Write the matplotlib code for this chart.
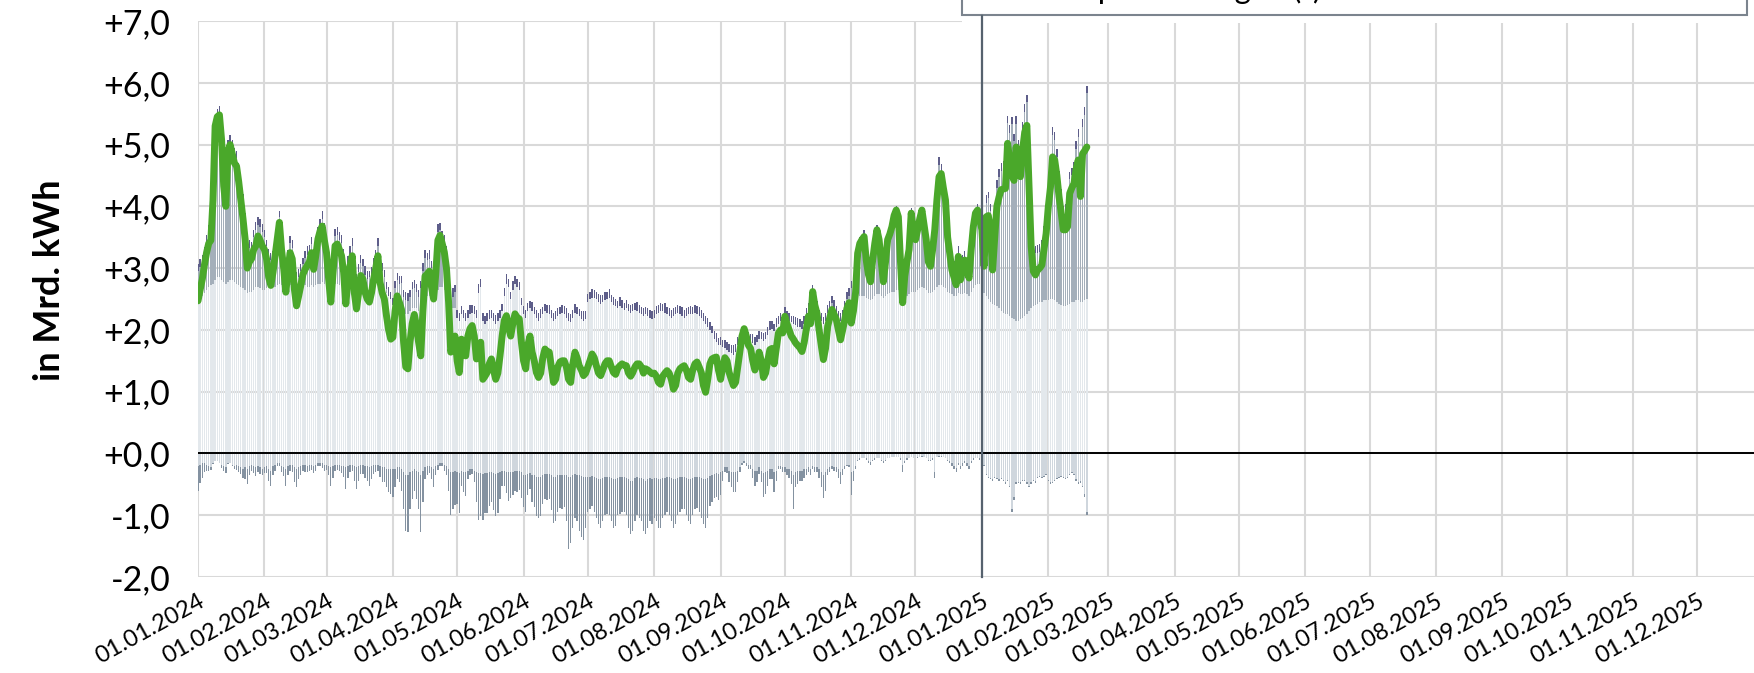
import numpy as np
import pandas as pd
import matplotlib
matplotlib.use("Agg")
import matplotlib.pyplot as plt
import matplotlib.dates as mdates
import matplotlib.transforms as mtransforms
from matplotlib.patches import Patch, Rectangle
from matplotlib.lines import Line2D
from matplotlib.ticker import FuncFormatter, MultipleLocator

plt.rcParams['font.family'] = ['Lato', 'DejaVu Sans']

# daily values from 01.01.2024, in Mrd. kWh
start = '2024-01-01'

verbrauch = [
    2.47, 2.65, 2.82, 3.05, 3.25, 3.40, 3.45, 4.10, 5.30, 5.45, 5.48, 5.08, 4.33, 4.00, 4.90, 5.00, 4.85, 4.70, 4.65, 4.40, 4.10, 3.80, 3.47, 3.00, 3.10, 3.15, 3.30, 3.36, 3.52, 3.45, 3.36,
    3.30, 3.15, 2.85, 2.72, 2.93, 3.20, 3.47, 3.74, 3.30, 3.00, 2.61, 2.95, 3.25, 3.15, 2.66, 2.39, 2.55, 2.72, 2.90, 2.98, 3.04, 3.10, 3.25, 2.98, 3.20, 3.47, 3.60, 3.68, 3.45,
    3.25, 2.82, 2.45, 2.90, 3.36, 3.39, 3.30, 3.20, 2.93, 2.42, 2.80, 3.04, 3.20, 2.60, 2.34, 2.60, 2.88, 2.82, 2.61, 2.50, 2.45, 2.60, 2.82, 3.00, 3.20, 2.77, 2.60, 2.50, 2.23, 2.00, 1.85,
    1.88, 2.30, 2.55, 2.45, 2.33, 1.80, 1.40, 1.37, 1.80, 2.10, 2.25, 2.06, 1.80, 1.58, 2.30, 2.87, 2.90, 2.95, 2.70, 2.50, 2.90, 3.45, 3.53, 3.40, 3.26, 3.00, 2.45, 1.64, 1.75, 1.90,
    1.50, 1.31, 1.85, 1.70, 1.58, 1.90, 2.02, 2.07, 1.90, 1.53, 1.65, 1.80, 1.20, 1.25, 1.31, 1.45, 1.53, 1.35, 1.20, 1.30, 1.58, 1.90, 2.15, 2.23, 2.05, 1.90, 2.10, 2.26, 2.20, 2.18, 1.80,
    1.50, 1.37, 1.75, 1.90, 1.64, 1.50, 1.31, 1.23, 1.30, 1.55, 1.69, 1.65, 1.64, 1.40, 1.15, 1.20, 1.40, 1.48, 1.50, 1.50, 1.40, 1.20, 1.15, 1.45, 1.64, 1.55, 1.42, 1.35, 1.26, 1.30,
    1.40, 1.50, 1.61, 1.55, 1.42, 1.30, 1.26, 1.35, 1.45, 1.50, 1.50, 1.40, 1.31, 1.28, 1.38, 1.42, 1.45, 1.43, 1.42, 1.30, 1.25, 1.31, 1.40, 1.45, 1.45, 1.40, 1.30, 1.37, 1.35, 1.32, 1.29,
    1.30, 1.25, 1.15, 1.12, 1.25, 1.30, 1.34, 1.30, 1.20, 1.04, 1.10, 1.30, 1.37, 1.40, 1.42, 1.35, 1.23, 1.20, 1.35, 1.45, 1.48, 1.40, 1.31, 1.10, 0.99, 1.20, 1.45, 1.53, 1.55, 1.56, 1.35,
    1.20, 1.40, 1.55, 1.50, 1.31, 1.20, 1.10, 1.15, 1.40, 1.64, 1.90, 2.02, 1.90, 1.75, 1.70, 1.50, 1.35, 1.45, 1.64, 1.50, 1.23, 1.30, 1.50, 1.68, 1.70, 1.45, 1.70, 1.95, 2.00, 1.95,
    2.22, 2.10, 2.00, 1.90, 1.85, 1.79, 1.75, 1.71, 1.65, 1.79, 2.00, 2.22, 2.10, 2.62, 2.40, 2.27, 2.00, 1.75, 1.52, 1.70, 2.06, 2.20, 2.33, 2.25, 2.17, 2.00, 1.84, 2.00, 2.17, 2.35, 2.44,
    2.11, 2.30, 2.60, 3.24, 3.40, 3.46, 3.51, 3.13, 2.90, 2.78, 3.13, 3.40, 3.62, 3.46, 3.10, 2.78, 3.10, 3.46, 3.55, 3.67, 3.85, 3.94, 3.83, 3.10, 2.44, 2.87, 3.10, 3.30, 3.89, 3.60,
    3.46, 3.62, 3.80, 3.94, 3.70, 3.46, 3.10, 3.03, 3.30, 3.62, 4.10, 4.48, 4.53, 4.30, 4.10, 3.50, 3.24, 2.97, 2.85, 2.73, 3.19, 2.81, 3.00, 3.13, 2.95, 2.84, 3.30, 3.67, 3.89, 3.94, 3.80,
    3.62, 3.03, 3.83, 3.85, 3.62, 2.97, 3.50, 4.00, 4.15, 4.27, 4.28, 4.29, 5.02, 4.75, 4.50, 4.42, 4.96, 4.60, 4.48, 4.91, 5.20, 5.31, 4.32, 3.35, 2.95, 2.89, 2.97, 3.00, 3.05, 3.30, 3.56,
    3.99, 4.30, 4.80, 4.75, 4.50, 4.16, 3.90, 3.62, 3.62, 3.67, 4.21, 4.30, 4.37, 4.60, 4.75, 4.16, 4.85, 4.90, 4.96,
]

importe = [
    2.45, 2.50, 2.55, 2.60, 2.65, 2.70, 2.72, 2.75, 2.80, 2.85, 2.85, 2.80, 2.78, 2.75, 2.78, 2.80, 2.80, 2.78, 2.75, 2.72, 2.70, 2.68, 2.65, 2.60, 2.62, 2.62, 2.65, 2.70, 2.70, 2.68, 2.65,
    2.65, 2.68, 2.70, 2.72, 2.70, 2.70, 2.72, 2.75, 2.72, 2.70, 2.68, 2.70, 2.72, 2.70, 2.68, 2.65, 2.68, 2.70, 2.72, 2.72, 2.70, 2.70, 2.72, 2.70, 2.72, 2.75, 2.75, 2.78, 2.75,
    2.75, 2.72, 2.70, 2.72, 2.75, 2.75, 2.72, 2.72, 2.70, 2.68, 2.70, 2.72, 2.72, 2.70, 2.68, 2.70, 2.72, 2.70, 2.68, 2.65, 2.65, 2.68, 2.70, 2.70, 2.72, 2.70, 2.65, 2.62, 2.60, 2.55, 2.50,
    2.40, 2.40, 2.40, 2.40, 2.35, 2.30, 2.25, 2.25, 2.30, 2.35, 2.35, 2.35, 2.30, 2.25, 2.40, 2.50, 2.55, 2.55, 2.50, 2.50, 2.55, 2.65, 2.70, 2.70, 2.65, 2.60, 2.50, 2.35, 2.35, 2.35,
    2.20, 2.15, 2.25, 2.20, 2.15, 2.20, 2.25, 2.28, 2.25, 2.20, 2.60, 2.70, 2.15, 2.10, 2.15, 2.18, 2.20, 2.15, 2.10, 2.15, 2.20, 2.30, 2.55, 2.75, 2.70, 2.50, 2.65, 2.75, 2.70, 2.65, 2.40,
    2.25, 2.20, 2.30, 2.35, 2.30, 2.25, 2.20, 2.15, 2.20, 2.25, 2.30, 2.28, 2.25, 2.20, 2.15, 2.18, 2.22, 2.25, 2.28, 2.25, 2.20, 2.15, 2.12, 2.20, 2.28, 2.25, 2.22, 2.18, 2.15, 2.18,
    2.45, 2.50, 2.52, 2.52, 2.50, 2.45, 2.42, 2.45, 2.48, 2.50, 2.52, 2.45, 2.40, 2.38, 2.35, 2.38, 2.35, 2.32, 2.35, 2.30, 2.28, 2.30, 2.32, 2.30, 2.28, 2.25, 2.22, 2.25, 2.22, 2.20, 2.18,
    2.20, 2.25, 2.28, 2.30, 2.30, 2.28, 2.25, 2.22, 2.20, 2.22, 2.25, 2.28, 2.25, 2.22, 2.20, 2.22, 2.25, 2.25, 2.25, 2.28, 2.25, 2.22, 2.20, 2.15, 2.10, 2.05, 2.00, 1.95, 1.85, 1.80, 1.75,
    1.75, 1.72, 1.70, 1.68, 1.65, 1.62, 1.60, 1.65, 1.75, 1.82, 1.90, 1.95, 1.90, 1.85, 1.82, 1.78, 1.75, 1.80, 1.85, 1.85, 1.82, 1.85, 1.92, 2.00, 2.02, 1.98, 2.05, 2.10, 2.15, 2.12,
    2.20, 2.18, 2.15, 2.12, 2.10, 2.08, 2.05, 2.05, 2.02, 2.10, 2.18, 2.22, 2.20, 2.30, 2.28, 2.25, 2.20, 2.15, 2.10, 2.15, 2.22, 2.25, 2.28, 2.25, 2.22, 2.20, 2.15, 2.20, 2.25, 2.30, 2.30,
    2.35, 2.40, 2.45, 2.50, 2.55, 2.55, 2.55, 2.52, 2.50, 2.48, 2.50, 2.55, 2.58, 2.58, 2.55, 2.52, 2.55, 2.58, 2.60, 2.62, 2.62, 2.65, 2.65, 2.60, 2.50, 2.52, 2.55, 2.58, 2.62, 2.62,
    2.62, 2.65, 2.68, 2.70, 2.68, 2.65, 2.60, 2.60, 2.62, 2.65, 2.70, 2.72, 2.72, 2.70, 2.68, 2.62, 2.60, 2.58, 2.55, 2.55, 2.60, 2.58, 2.58, 2.60, 2.58, 2.55, 2.62, 2.68, 2.72, 2.75, 2.75,
    2.65, 2.60, 2.55, 2.50, 2.45, 2.42, 2.40, 2.38, 2.35, 2.30, 2.28, 2.25, 2.25, 2.22, 2.20, 2.18, 2.15, 2.15, 2.18, 2.20, 2.22, 2.25, 2.30, 2.35, 2.38, 2.40, 2.42, 2.45, 2.45, 2.48, 2.48,
    2.48, 2.50, 2.50, 2.48, 2.45, 2.42, 2.40, 2.38, 2.38, 2.40, 2.42, 2.45, 2.45, 2.48, 2.48, 2.45, 2.45, 2.48, 2.50,
]

ausspeicherungen = [
    0.50, 0.51, 0.55, 0.63, 0.76, 0.86, 0.88, 1.40, 2.50, 2.60, 2.66, 2.39, 1.71, 1.45, 2.17, 2.23, 2.14, 2.05, 2.04, 1.86, 1.62, 1.40, 1.12, 0.78, 0.71, 0.69, 0.85, 0.91, 1.00, 0.99, 0.94,
    0.85, 0.67, 0.48, 0.41, 0.46, 0.66, 0.83, 1.07, 0.76, 0.55, 0.34, 0.48, 0.69, 0.63, 0.33, 0.17, 0.17, 0.25, 0.34, 0.44, 0.52, 0.56, 0.67, 0.48, 0.64, 0.80, 0.93, 1.01, 0.86,
    0.64, 0.33, 0.15, 0.46, 0.77, 0.78, 0.74, 0.68, 0.49, 0.19, 0.38, 0.50, 0.64, 0.23, 0.11, 0.23, 0.37, 0.33, 0.21, 0.18, 0.20, 0.22, 0.33, 0.48, 0.64, 0.33, 0.30, 0.23, 0.06, 0.00, 0.00,
    0.00, 0.28, 0.40, 0.35, 0.41, 0.23, 0.23, 0.22, 0.23, 0.31, 0.33, 0.27, 0.23, 0.43, 0.56, 0.67, 0.58, 0.60, 0.50, 0.43, 0.58, 0.94, 0.91, 0.78, 0.77, 0.63, 0.43, 0.17, 0.18, 0.26,
    0.00, 0.00, 0.00, 0.00, 0.00, 0.00, 0.00, 0.00, 0.00, 0.00, 0.00, 0.00, 0.00, 0.00, 0.00, 0.00, 0.00, 0.00, 0.00, 0.00, 0.00, 0.00, 0.00, 0.00, 0.00, 0.00, 0.00, 0.00, 0.00, 0.00, 0.00,
    0.00, 0.00, 0.00, 0.00, 0.00, 0.00, 0.00, 0.00, 0.00, 0.00, 0.00, 0.00, 0.00, 0.00, 0.00, 0.00, 0.00, 0.00, 0.00, 0.00, 0.00, 0.00, 0.00, 0.00, 0.00, 0.00, 0.00, 0.00, 0.00, 0.00,
    0.00, 0.00, 0.00, 0.00, 0.00, 0.00, 0.00, 0.00, 0.00, 0.00, 0.00, 0.00, 0.00, 0.00, 0.00, 0.00, 0.00, 0.00, 0.00, 0.00, 0.00, 0.00, 0.00, 0.00, 0.00, 0.00, 0.00, 0.00, 0.00, 0.00, 0.00,
    0.00, 0.00, 0.00, 0.00, 0.00, 0.00, 0.00, 0.00, 0.00, 0.00, 0.00, 0.00, 0.00, 0.00, 0.00, 0.00, 0.00, 0.00, 0.00, 0.00, 0.00, 0.00, 0.00, 0.00, 0.00, 0.00, 0.00, 0.00, 0.00, 0.00, 0.00,
    0.00, 0.00, 0.00, 0.00, 0.00, 0.00, 0.00, 0.00, 0.00, 0.00, 0.00, 0.00, 0.00, 0.00, 0.00, 0.00, 0.00, 0.00, 0.00, 0.00, 0.00, 0.00, 0.00, 0.00, 0.00, 0.00, 0.00, 0.00, 0.00, 0.00,
    0.05, 0.00, 0.00, 0.00, 0.00, 0.00, 0.00, 0.00, 0.00, 0.00, 0.05, 0.10, 0.05, 0.30, 0.15, 0.10, 0.00, 0.00, 0.00, 0.00, 0.05, 0.10, 0.15, 0.10, 0.05, 0.00, 0.00, 0.00, 0.10, 0.20, 0.25,
    0.32, 0.23, 0.28, 0.74, 0.83, 0.87, 0.92, 0.59, 0.43, 0.36, 0.63, 0.83, 1.00, 0.84, 0.55, 0.29, 0.55, 0.84, 0.91, 0.99, 1.16, 1.22, 1.12, 0.48, 0.12, 0.38, 0.53, 0.68, 1.21, 0.94,
    0.80, 0.92, 1.06, 1.17, 0.96, 0.77, 0.50, 0.43, 0.66, 1.25, 1.34, 1.95, 1.85, 1.54, 1.38, 0.88, 0.67, 0.47, 0.43, 0.36, 0.65, 0.36, 0.50, 0.56, 0.45, 0.42, 0.71, 0.97, 1.13, 1.15, 1.03,
    1.00, 0.51, 1.51, 1.63, 1.47, 0.88, 1.38, 1.92, 2.13, 2.27, 2.33, 2.42, 3.10, 2.96, 3.13, 2.87, 3.19, 2.81, 2.68, 3.04, 3.31, 3.44, 2.45, 1.38, 0.90, 0.85, 0.83, 0.81, 0.88, 1.08, 1.31,
    1.84, 2.18, 2.66, 2.60, 2.35, 2.02, 1.76, 1.52, 1.54, 1.55, 2.02, 2.05, 2.15, 2.45, 2.65, 2.07, 2.83, 3.00, 3.34,
]

produktion = [
    0.12, 0.13, 0.12, 0.11, 0.12, 0.13, 0.14, 0.12, 0.12, 0.13, 0.12, 0.11, 0.12, 0.13, 0.12, 0.12, 0.13, 0.12, 0.11, 0.12, 0.13, 0.12, 0.12, 0.14, 0.12, 0.11, 0.12, 0.13, 0.12, 0.12, 0.13,
    0.12, 0.11, 0.13, 0.12, 0.12, 0.14, 0.12, 0.11, 0.12, 0.13, 0.12, 0.12, 0.11, 0.13, 0.12, 0.12, 0.14, 0.12, 0.11, 0.12, 0.13, 0.12, 0.12, 0.11, 0.13, 0.12, 0.12, 0.14, 0.12,
    0.13, 0.12, 0.12, 0.11, 0.12, 0.13, 0.12, 0.14, 0.12, 0.11, 0.12, 0.13, 0.12, 0.12, 0.11, 0.13, 0.12, 0.12, 0.14, 0.12, 0.11, 0.12, 0.13, 0.12, 0.12, 0.11, 0.13, 0.12, 0.12, 0.14, 0.12,
    0.12, 0.11, 0.12, 0.13, 0.12, 0.12, 0.14, 0.12, 0.11, 0.12, 0.13, 0.12, 0.12, 0.11, 0.13, 0.12, 0.12, 0.14, 0.12, 0.11, 0.12, 0.13, 0.12, 0.12, 0.11, 0.13, 0.12, 0.12, 0.14, 0.12,
    0.13, 0.12, 0.14, 0.12, 0.12, 0.13, 0.15, 0.12, 0.13, 0.12, 0.14, 0.12, 0.13, 0.12, 0.12, 0.15, 0.13, 0.12, 0.14, 0.12, 0.13, 0.12, 0.12, 0.15, 0.13, 0.12, 0.14, 0.12, 0.13, 0.12, 0.12,
    0.14, 0.12, 0.13, 0.12, 0.15, 0.12, 0.13, 0.12, 0.14, 0.12, 0.12, 0.13, 0.15, 0.12, 0.13, 0.12, 0.14, 0.12, 0.12, 0.13, 0.15, 0.12, 0.13, 0.12, 0.14, 0.12, 0.12, 0.13, 0.15, 0.12,
    0.13, 0.12, 0.14, 0.12, 0.12, 0.13, 0.15, 0.12, 0.13, 0.12, 0.14, 0.12, 0.13, 0.12, 0.12, 0.15, 0.13, 0.12, 0.14, 0.12, 0.13, 0.12, 0.12, 0.15, 0.13, 0.12, 0.14, 0.12, 0.13, 0.12, 0.12,
    0.12, 0.14, 0.12, 0.13, 0.12, 0.15, 0.12, 0.13, 0.12, 0.14, 0.12, 0.12, 0.13, 0.15, 0.12, 0.13, 0.12, 0.14, 0.12, 0.12, 0.13, 0.15, 0.12, 0.13, 0.12, 0.14, 0.12, 0.12, 0.13, 0.15, 0.12,
    0.13, 0.12, 0.14, 0.12, 0.12, 0.13, 0.15, 0.12, 0.13, 0.12, 0.14, 0.12, 0.13, 0.12, 0.12, 0.15, 0.13, 0.12, 0.14, 0.12, 0.13, 0.12, 0.12, 0.15, 0.13, 0.12, 0.14, 0.12, 0.13, 0.12,
    0.12, 0.13, 0.12, 0.11, 0.12, 0.13, 0.14, 0.12, 0.12, 0.13, 0.12, 0.11, 0.12, 0.13, 0.12, 0.12, 0.13, 0.12, 0.11, 0.12, 0.13, 0.12, 0.12, 0.14, 0.12, 0.11, 0.12, 0.13, 0.12, 0.12, 0.13,
    0.12, 0.11, 0.12, 0.13, 0.12, 0.12, 0.14, 0.12, 0.11, 0.12, 0.13, 0.12, 0.12, 0.11, 0.13, 0.12, 0.12, 0.14, 0.12, 0.11, 0.12, 0.13, 0.12, 0.12, 0.11, 0.13, 0.12, 0.12, 0.14, 0.12,
    0.13, 0.12, 0.12, 0.11, 0.12, 0.13, 0.12, 0.14, 0.12, 0.11, 0.12, 0.13, 0.12, 0.12, 0.11, 0.13, 0.12, 0.12, 0.14, 0.12, 0.11, 0.12, 0.13, 0.12, 0.12, 0.11, 0.13, 0.12, 0.12, 0.14, 0.12,
    0.12, 0.13, 0.12, 0.11, 0.12, 0.13, 0.14, 0.12, 0.12, 0.13, 0.12, 0.11, 0.12, 0.13, 0.12, 0.12, 0.13, 0.12, 0.11, 0.12, 0.13, 0.12, 0.12, 0.14, 0.12, 0.11, 0.12, 0.13, 0.12, 0.12, 0.13,
    0.12, 0.11, 0.13, 0.12, 0.12, 0.14, 0.12, 0.11, 0.12, 0.13, 0.12, 0.12, 0.11, 0.13, 0.12, 0.12, 0.14, 0.12, 0.11,
]

exporte = [
    0.20, 0.18, 0.15, 0.15, 0.18, 0.20, 0.22, 0.15, 0.12, 0.12, 0.15, 0.18, 0.20, 0.22, 0.15, 0.15, 0.18, 0.20, 0.18, 0.20, 0.22, 0.25, 0.22, 0.25, 0.20, 0.18, 0.20, 0.22, 0.20, 0.22, 0.25,
    0.22, 0.20, 0.25, 0.28, 0.20, 0.18, 0.15, 0.15, 0.20, 0.22, 0.25, 0.20, 0.18, 0.18, 0.22, 0.25, 0.22, 0.20, 0.18, 0.18, 0.20, 0.18, 0.18, 0.20, 0.18, 0.15, 0.15, 0.15, 0.18,
    0.18, 0.20, 0.22, 0.20, 0.18, 0.18, 0.18, 0.20, 0.20, 0.22, 0.20, 0.18, 0.18, 0.20, 0.22, 0.20, 0.18, 0.18, 0.20, 0.20, 0.22, 0.20, 0.18, 0.18, 0.18, 0.20, 0.22, 0.22, 0.25, 0.25, 0.25,
    0.25, 0.25, 0.22, 0.22, 0.25, 0.30, 0.35, 0.35, 0.30, 0.28, 0.25, 0.28, 0.30, 0.35, 0.28, 0.22, 0.20, 0.20, 0.22, 0.25, 0.20, 0.18, 0.15, 0.15, 0.18, 0.20, 0.25, 0.30, 0.30, 0.28,
    0.30, 0.32, 0.28, 0.30, 0.30, 0.28, 0.25, 0.25, 0.28, 0.30, 0.32, 0.32, 0.33, 0.32, 0.32, 0.30, 0.30, 0.32, 0.33, 0.32, 0.30, 0.28, 0.28, 0.30, 0.30, 0.30, 0.30, 0.28, 0.28, 0.28, 0.30,
    0.35, 0.35, 0.33, 0.32, 0.35, 0.35, 0.38, 0.38, 0.38, 0.35, 0.33, 0.33, 0.33, 0.35, 0.38, 0.38, 0.35, 0.35, 0.35, 0.35, 0.35, 0.38, 0.38, 0.35, 0.33, 0.35, 0.35, 0.36, 0.38, 0.38,
    0.38, 0.38, 0.36, 0.38, 0.40, 0.42, 0.42, 0.40, 0.38, 0.38, 0.38, 0.40, 0.42, 0.42, 0.40, 0.38, 0.38, 0.38, 0.40, 0.42, 0.45, 0.45, 0.40, 0.38, 0.40, 0.40, 0.42, 0.45, 0.42, 0.40, 0.42,
    0.40, 0.40, 0.42, 0.42, 0.40, 0.40, 0.38, 0.38, 0.40, 0.42, 0.42, 0.40, 0.38, 0.38, 0.38, 0.40, 0.42, 0.42, 0.40, 0.38, 0.38, 0.38, 0.40, 0.42, 0.42, 0.40, 0.36, 0.35, 0.33, 0.32, 0.33,
    0.30, 0.28, 0.22, 0.22, 0.28, 0.30, 0.30, 0.30, 0.28, 0.22, 0.15, 0.12, 0.15, 0.18, 0.18, 0.25, 0.28, 0.28, 0.22, 0.28, 0.32, 0.30, 0.28, 0.25, 0.25, 0.30, 0.28, 0.20, 0.20, 0.22,
    0.22, 0.25, 0.25, 0.28, 0.35, 0.30, 0.28, 0.28, 0.28, 0.25, 0.25, 0.22, 0.25, 0.20, 0.22, 0.22, 0.25, 0.30, 0.35, 0.30, 0.25, 0.22, 0.20, 0.22, 0.22, 0.25, 0.30, 0.25, 0.20, 0.18, 0.18,
    0.30, 0.28, 0.20, 0.10, 0.08, 0.07, 0.07, 0.08, 0.12, 0.14, 0.10, 0.08, 0.07, 0.07, 0.10, 0.12, 0.10, 0.07, 0.07, 0.05, 0.05, 0.05, 0.05, 0.08, 0.18, 0.12, 0.08, 0.07, 0.05, 0.07,
    0.07, 0.06, 0.05, 0.04, 0.05, 0.07, 0.10, 0.10, 0.08, 0.30, 0.05, 0.04, 0.04, 0.05, 0.07, 0.10, 0.12, 0.16, 0.20, 0.24, 0.15, 0.20, 0.16, 0.12, 0.16, 0.20, 0.12, 0.08, 0.07, 0.07, 0.08,
    0.14, 0.19, 0.33, 0.38, 0.40, 0.42, 0.38, 0.40, 0.42, 0.40, 0.43, 0.47, 0.43, 0.52, 0.90, 0.71, 0.47, 0.46, 0.47, 0.43, 0.43, 0.47, 0.52, 0.47, 0.43, 0.45, 0.38, 0.36, 0.38, 0.36, 0.33,
    0.43, 0.47, 0.46, 0.43, 0.40, 0.38, 0.36, 0.38, 0.39, 0.38, 0.33, 0.30, 0.33, 0.42, 0.47, 0.45, 0.52, 0.66, 0.95,
]

einspeicherungen = [
    0.40, 0.30, 0.25, 0.15, 0.10, 0.08, 0.05, 0.02, 0.00, 0.00, 0.00, 0.05, 0.08, 0.10, 0.02, 0.00, 0.03, 0.05, 0.08, 0.10, 0.12, 0.15, 0.20, 0.25, 0.15, 0.10, 0.12, 0.15, 0.10, 0.12, 0.10,
    0.10, 0.12, 0.20, 0.25, 0.15, 0.10, 0.05, 0.05, 0.10, 0.15, 0.28, 0.15, 0.10, 0.12, 0.25, 0.30, 0.20, 0.15, 0.10, 0.12, 0.10, 0.10, 0.08, 0.12, 0.10, 0.05, 0.05, 0.08, 0.10,
    0.08, 0.15, 0.30, 0.20, 0.10, 0.08, 0.10, 0.12, 0.18, 0.35, 0.20, 0.12, 0.10, 0.25, 0.35, 0.25, 0.15, 0.15, 0.20, 0.25, 0.30, 0.22, 0.15, 0.12, 0.10, 0.18, 0.25, 0.25, 0.30, 0.38, 0.40,
    0.45, 0.30, 0.20, 0.25, 0.35, 0.60, 0.90, 0.92, 0.60, 0.45, 0.35, 0.45, 0.60, 0.92, 0.50, 0.20, 0.15, 0.12, 0.20, 0.30, 0.15, 0.08, 0.05, 0.05, 0.10, 0.15, 0.35, 0.70, 0.60, 0.55,
    0.52, 0.64, 0.24, 0.32, 0.39, 0.14, 0.10, 0.08, 0.19, 0.49, 0.75, 0.70, 0.74, 0.65, 0.64, 0.55, 0.49, 0.60, 0.69, 0.65, 0.44, 0.24, 0.24, 0.34, 0.47, 0.42, 0.37, 0.33, 0.34, 0.31, 0.42,
    0.52, 0.60, 0.34, 0.25, 0.43, 0.52, 0.63, 0.66, 0.64, 0.47, 0.40, 0.42, 0.40, 0.57, 0.74, 0.72, 0.59, 0.54, 0.55, 0.52, 0.75, 1.16, 1.07, 0.85, 0.72, 0.75, 0.90, 0.99, 1.02, 0.82,
    0.57, 0.52, 0.49, 0.57, 0.65, 0.73, 0.78, 0.70, 0.62, 0.60, 0.62, 0.70, 0.78, 0.76, 0.60, 0.60, 0.57, 0.57, 0.60, 0.78, 0.85, 0.80, 0.70, 0.62, 0.65, 0.70, 0.83, 0.85, 0.78, 0.70, 0.73,
    0.65, 0.70, 0.78, 0.78, 0.65, 0.60, 0.57, 0.62, 0.70, 0.78, 0.73, 0.60, 0.57, 0.52, 0.52, 0.60, 0.68, 0.73, 0.60, 0.52, 0.50, 0.57, 0.65, 0.73, 0.78, 0.65, 0.49, 0.43, 0.39, 0.38, 0.42,
    0.37, 0.17, 0.08, 0.10, 0.18, 0.25, 0.32, 0.32, 0.19, 0.08, 0.03, 0.03, 0.05, 0.07, 0.07, 0.15, 0.24, 0.19, 0.11, 0.19, 0.38, 0.35, 0.24, 0.17, 0.17, 0.33, 0.17, 0.05, 0.05, 0.08,
    0.08, 0.10, 0.15, 0.22, 0.55, 0.25, 0.22, 0.17, 0.17, 0.15, 0.10, 0.08, 0.10, 0.05, 0.08, 0.08, 0.15, 0.25, 0.37, 0.30, 0.10, 0.08, 0.05, 0.06, 0.08, 0.15, 0.20, 0.10, 0.05, 0.02, 0.04,
    0.38, 0.17, 0.05, 0.02, 0.02, 0.01, 0.01, 0.02, 0.03, 0.04, 0.02, 0.02, 0.01, 0.01, 0.02, 0.03, 0.02, 0.01, 0.01, 0.01, 0.00, 0.00, 0.01, 0.02, 0.12, 0.03, 0.02, 0.01, 0.01, 0.01,
    0.01, 0.01, 0.01, 0.01, 0.01, 0.01, 0.02, 0.02, 0.02, 0.10, 0.01, 0.01, 0.01, 0.01, 0.01, 0.02, 0.03, 0.04, 0.05, 0.06, 0.03, 0.05, 0.04, 0.03, 0.04, 0.05, 0.03, 0.02, 0.01, 0.01, 0.02,
    0.01, 0.01, 0.02, 0.02, 0.02, 0.03, 0.02, 0.02, 0.03, 0.02, 0.02, 0.03, 0.02, 0.03, 0.05, 0.04, 0.03, 0.02, 0.03, 0.02, 0.02, 0.03, 0.03, 0.03, 0.02, 0.03, 0.02, 0.02, 0.02, 0.02, 0.02,
    0.02, 0.03, 0.02, 0.02, 0.02, 0.02, 0.02, 0.02, 0.03, 0.02, 0.02, 0.02, 0.02, 0.03, 0.03, 0.03, 0.03, 0.04, 0.05,
]

series = [verbrauch, importe, ausspeicherungen, produktion, exporte, einspeicherungen]
n = min(len(s) for s in series)
verbrauch, importe, ausspeicherungen, produktion, exporte, einspeicherungen = [np.array(s[:n]) for s in series]

tage = pd.date_range(start, periods=n, freq='D')
x = mdates.date2num(tage)

c_import = '#e3e8ec'
c_aus = '#a4afba'
c_prod = '#5e5e8a'
c_exp = '#cfd6dd'
c_ein = '#8492a1'
c_green = '#4aa82a'
c_frame = '#56626e'

fig = plt.figure(figsize=(17.54, 6.73), dpi=100)
ax = fig.add_axes([198 / 1754, 96 / 673, 1556 / 1754, 556 / 673])

w = 0.62
ax.bar(x, importe, width=w, color=c_import, linewidth=0, zorder=2)
ax.bar(x, ausspeicherungen, bottom=importe, width=w, color=c_aus, linewidth=0, zorder=2)
ax.bar(x, produktion, bottom=importe + ausspeicherungen, width=w, color=c_prod, linewidth=0, zorder=2)
ax.bar(x, -exporte, width=w, color=c_exp, linewidth=0, zorder=2)
ax.bar(x, -einspeicherungen, bottom=-exporte, width=w, color=c_ein, linewidth=0, zorder=2)
ax.plot(x, verbrauch, color=c_green, lw=5.0, solid_joinstyle='round', solid_capstyle='round', zorder=4)

ax.axhline(0, color='black', lw=1.4, zorder=3)

ax.set_ylim(-2, 7)
ax.set_xlim(mdates.date2num(pd.Timestamp('2024-01-01')),
            mdates.date2num(pd.Timestamp('2025-12-27 12:00')))

monate = pd.date_range('2024-01-01', '2025-12-01', freq='MS')
ax.set_xticks(mdates.date2num(monate))
ax.set_xticklabels([d.strftime('%d.%m.%Y') for d in monate], rotation=29, ha='right',
                   rotation_mode='anchor', fontsize=17)
ax.yaxis.set_major_locator(MultipleLocator(1))
ax.yaxis.set_major_formatter(FuncFormatter(lambda v, p: f"{v:+.1f}".replace('.', ',')))
ax.tick_params(axis='y', labelsize=24.5, length=0, pad=20)
ax.tick_params(axis='x', length=0, pad=10)

ax.grid(True, color='#d9d9d9', lw=1.5, zorder=0)
ax.set_axisbelow(True)
for s in ax.spines.values():
    s.set_visible(False)

fig.text(50 / 1754, 1 - 280 / 673, 'in Mrd. kWh', rotation=90, fontsize=26,
         fontweight='bold', ha='center', va='center')

# white strip under the legend box, hiding the top grid line there
leg_bottom = 1 - 14.5 / 673
fig.add_artist(Rectangle((962 / 1754, 1 - 23 / 673), 1 - 962 / 1754, leg_bottom - (1 - 23 / 673),
                         transform=fig.transFigure, facecolor='white', edgecolor='none', zorder=2))

# marker line at 01.01.2025, from the x axis up to the legend box
trans = mtransforms.blended_transform_factory(ax.transData, fig.transFigure)
x_jahr = mdates.date2num(pd.Timestamp('2025-01-01'))
fig.add_artist(Line2D([x_jahr, x_jahr], [96 / 673, leg_bottom], transform=trans,
                      color=c_frame, lw=1.6, zorder=3))

handles = [
    Patch(color=c_import), Patch(color=c_prod), Patch(color=c_ein),
    Patch(color=c_exp), Patch(color=c_aus), Line2D([], [], color=c_green, lw=4),
]
labels = ['Importe (+)', 'Produktion (+)', 'Einspeicherungen (-)',
          'Exporte (-)', 'Ausspeicherungen (+)', 'Verbrauch']
leg = fig.legend(handles, labels, ncol=2, loc='lower left', mode='expand',
                 bbox_to_anchor=(962 / 1754, leg_bottom, 785 / 1754, 0.2),
                 borderaxespad=0, fontsize=22.5, frameon=True, fancybox=False,
                 edgecolor='#5a6672', borderpad=0.32, handlelength=1.5, handletextpad=0.7,
                 handleheight=0.4)
leg.get_frame().set_linewidth(1.5)
leg.set_zorder(4)

fig.savefig('out.png', dpi=100)
